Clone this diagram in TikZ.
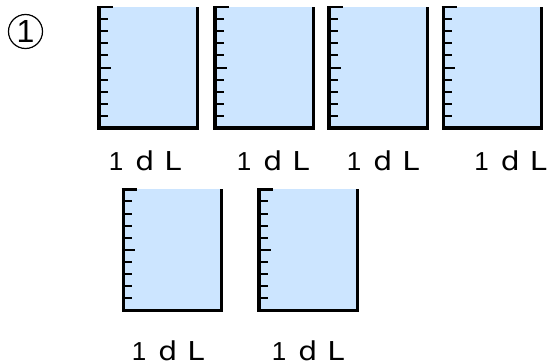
\documentclass[tikz,border=0pt]{standalone}
\usepackage{fontspec}
\newfontfamily\unitfont[FakeStretch=1.15]{DejaVu Sans}
\newfontfamily\markfont{Liberation Sans}
\definecolor{cupblue}{RGB}{204,229,255}
\begin{document}
\begin{tikzpicture}[x=1pt,y=-1pt,
            wall/.style={line width=3.2pt},
            tick/.style={line width=2pt},
            amount/.style={font=\fontsize{26}{26}\selectfont,anchor=base,inner sep=0pt}]
            \useasboundingbox (0,0) rectangle (549,364);
            \node[circle,draw,line width=1.2pt,minimum size=34pt,inner sep=0pt,
                  font=\markfont\fontsize{32}{32}\selectfont] (mark) at (25.5,31.5) {1};
            \foreach \u \v \w \z \n in {99/7/145/170/1,215/7/273/170/2,329/7/383/170/3,443.3/7/510.5/170/4,123.3/189.3/168/360/5,259/189.3/308/360/6}
            {
            \fill[cupblue] (\u,\v) rectangle ++(98.4,121);
            \draw[wall] (\u,\v) -- ++(0,121) -- ++(98.4,0) -- ++(0,-121);
            \draw[tick,line width=2.4pt] (\u-1.6,\v) -- ++(15.5,0);
            \foreach \k in {1,...,9}
            \draw[tick] (\u,\v+12.1*\k) -- ++(9,0);
            \draw[tick] (\u,\v+60.5) -- ++(12,0);
            \node[amount] (amount\n) at (\w,\z) {\markfont 1\hspace{12pt}\unitfont d\hspace{10pt}L};
            }
\end{tikzpicture}
\end{document}
